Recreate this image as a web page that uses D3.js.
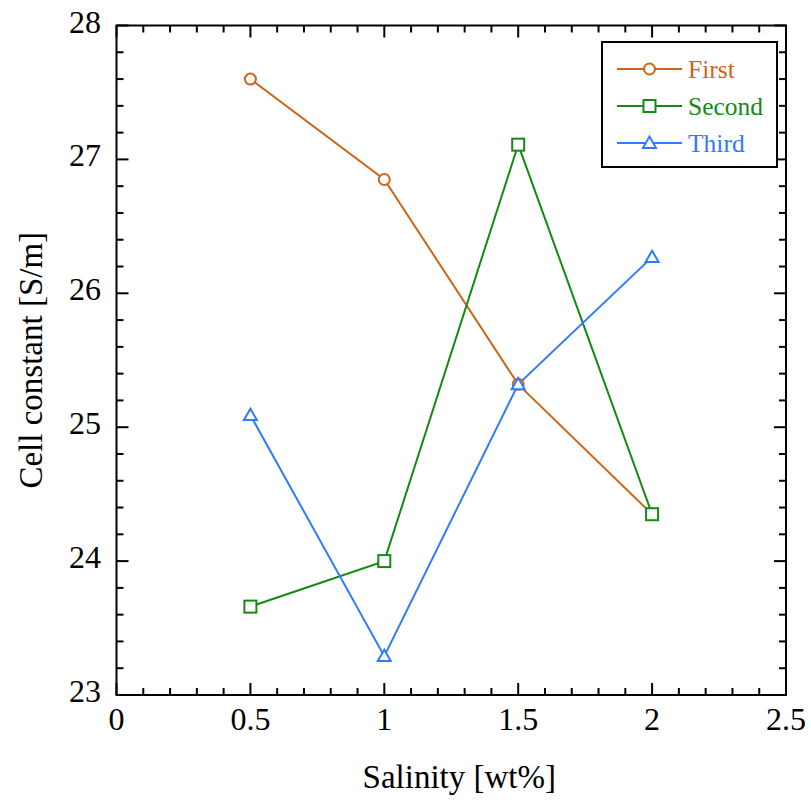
<!DOCTYPE html>
<html>
<head>
<meta charset="utf-8">
<script src="https://cdn.jsdelivr.net/npm/d3@7"></script>
</head>
<body style="margin:0;background:#fff">
<svg id="chart" width="811" height="800" style="display:block"></svg>
<script>
// Salinity levels (wt%)
const salinity = [0.5, 1, 1.5, 2];
// Cell constant per measurement run (S/m)
const firstRun  = [27.6, 26.85, 25.32, 24.35];
const secondRun = [23.66, 24.0, 27.11, 24.35];
const thirdRun  = [25.09, 23.29, 25.32, 26.27];
const seriesNames = ["First", "Second", "Third"];
const seriesColors = ["#cc6618", "#148a14", "#2f7bff"];
const seriesShapes = ["circle", "square", "triangle"];
const xTicks = [0, 0.5, 1, 1.5, 2, 2.5];
const yTicks = [23, 24, 25, 26, 27, 28];

const FONT = '"Tinos"';

const svg = d3.select("#chart");
const margin = { left: 116.5, right: 25, top: 25.5, bottom: 105 };
const W = 811, H = 800;
const x = d3.scaleLinear().domain([0, 2.5]).range([margin.left, W - margin.right]);
const y = d3.scaleLinear().domain([23, 28]).range([H - margin.bottom, margin.top]);

const x0 = x.range()[0], x1 = x.range()[1];
const y0 = y.range()[0], y1 = y.range()[1];

// Inward ticks on all four sides
const major = 12, minor = 7;
const xMinor = d3.range(0, 2.5001, 0.1);
const yMinor = d3.range(23, 28.0001, 0.2);
const tickG = svg.append("g").attr("stroke", "#000").attr("stroke-width", 2);
xMinor.forEach(v => {
  const isMajor = Math.abs(v * 2 - Math.round(v * 2)) < 1e-6;
  const len = isMajor ? major : minor;
  tickG.append("line").attr("x1", x(v)).attr("x2", x(v)).attr("y1", y0).attr("y2", y0 - len);
  tickG.append("line").attr("x1", x(v)).attr("x2", x(v)).attr("y1", y1).attr("y2", y1 + len);
});
yMinor.forEach(v => {
  const isMajor = Math.abs(v - Math.round(v)) < 1e-6;
  const len = isMajor ? major : minor;
  tickG.append("line").attr("y1", y(v)).attr("y2", y(v)).attr("x1", x0).attr("x2", x0 + len);
  tickG.append("line").attr("y1", y(v)).attr("y2", y(v)).attr("x1", x1).attr("x2", x1 - len);
});

// Frame
svg.append("rect")
  .attr("x", x0).attr("y", y1).attr("width", x1 - x0).attr("height", y0 - y1)
  .attr("fill", "none").attr("stroke", "#000").attr("stroke-width", 2);

// Tick labels
svg.append("g").selectAll("text").data(xTicks).join("text")
  .attr("x", d => x(d)).attr("y", 730)
  .style("font-family", FONT)
  .attr("text-anchor", "middle").attr("font-size", 32).attr("fill", "#000")
  .text(d => d3.format("~g")(d));
svg.append("g").selectAll("text").data(yTicks).join("text")
  .attr("x", 101).attr("y", d => y(d) + 7)
  .style("font-family", FONT)
  .attr("text-anchor", "end").attr("font-size", 32).attr("fill", "#000")
  .text(d => d);

// Axis titles
svg.append("text")
  .attr("x", (x0 + x1) / 2 + 8).attr("y", 788)
  .style("font-family", FONT)
  .attr("text-anchor", "middle").attr("font-size", 33).attr("fill", "#000")
  .text("Salinity [wt%]");
svg.append("text")
  .attr("transform", `translate(42,${(y0 + y1) / 2}) rotate(-90)`)
  .style("font-family", FONT)
  .attr("text-anchor", "middle").attr("font-size", 33).attr("fill", "#000")
  .text("Cell constant [S/m]");

// Marker drawing
function drawMarker(g, shape, cx, cy, color) {
  if (shape === "circle") {
    g.append("circle").attr("cx", cx).attr("cy", cy).attr("r", 5.5)
      .attr("fill", "#fff").attr("stroke", color).attr("stroke-width", 2);
  } else if (shape === "square") {
    g.append("rect").attr("x", cx - 6).attr("y", cy - 6).attr("width", 12).attr("height", 12)
      .attr("fill", "#fff").attr("stroke", color).attr("stroke-width", 2);
  } else {
    const s = 6.5;
    g.append("path")
      .attr("d", `M${cx},${cy - s}L${cx + s},${cy + s * 0.75}L${cx - s},${cy + s * 0.75}Z`)
      .attr("fill", "#fff").attr("stroke", color).attr("stroke-width", 2);
  }
}

const series = [firstRun, secondRun, thirdRun];
const line = d3.line().x((d, i) => x(salinity[i])).y(d => y(d));

series.forEach((vals, k) => {
  svg.append("path").datum(vals).attr("d", line)
    .attr("fill", "none").attr("stroke", seriesColors[k]).attr("stroke-width", 2);
});
series.forEach((vals, k) => {
  const g = svg.append("g");
  vals.forEach((v, i) => drawMarker(g, seriesShapes[k], x(salinity[i]), y(v), seriesColors[k]));
});

// Legend
const lg = svg.append("g");
lg.append("rect").attr("x", 602).attr("y", 42).attr("width", 175).attr("height", 125)
  .attr("fill", "#fff").attr("stroke", "#000").attr("stroke-width", 2);
const rowY = [69, 106, 143];
seriesNames.forEach((name, k) => {
  const yy = rowY[k];
  lg.append("line").attr("x1", 617).attr("x2", 682).attr("y1", yy).attr("y2", yy)
    .attr("stroke", seriesColors[k]).attr("stroke-width", 2);
  drawMarker(lg, seriesShapes[k], 649.5, yy, seriesColors[k]);
  lg.append("text").attr("x", 688).attr("y", yy + 9)
    .style("font-family", FONT)
    .attr("font-size", 25.5).attr("fill", seriesColors[k]).text(name);
});
</script>
</body>
</html>
